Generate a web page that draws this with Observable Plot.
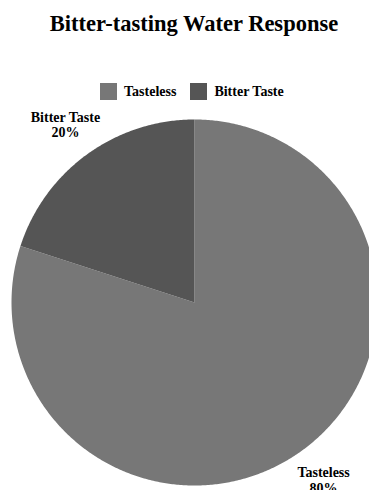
<!DOCTYPE html>
<html>
<head>
<meta charset="utf-8">
<script src="https://cdn.jsdelivr.net/npm/d3@7"></script>
<script src="https://cdn.jsdelivr.net/npm/@observablehq/plot@0.6"></script>
<style>
  html, body { margin: 0; padding: 0; background: #fff; }
  #wrap { position: relative; width: 369px; height: 490px; overflow: hidden; }
  #title { position: absolute; left: 9px; top: 13px; width: 370px; text-align: center; white-space: nowrap;
    font-family: "Liberation Serif", "Times New Roman", serif; font-weight: bold; font-size: 22.5px; line-height: 22px; color: #000; }
  #legend { position: absolute; left: 100px; top: 75px; }
  #chart { position: absolute; left: 0; top: 0; }
</style>
</head>
<body>
<div id="wrap">
  <div id="chart"></div>
  <div id="title">Bitter-tasting Water Response</div>
  <div id="legend"></div>
</div>
<script>
const categories = ["Tasteless", "Bitter Taste"];
const values = [80, 20];
const colors = ["#777777", "#555555"];

const total = d3.sum(values);
const arcs = d3.pie().sort(null)(values);

// Slice outlines in unit-circle data space (angle clockwise from 12 o'clock)
const slicePoints = [];
arcs.forEach((a, i) => {
  slicePoints.push({category: categories[i], x: 0, y: 0});
  const n = Math.max(2, Math.ceil((a.endAngle - a.startAngle) / (Math.PI / 360)));
  for (let k = 0; k <= n; k++) {
    const t = a.startAngle + (a.endAngle - a.startAngle) * k / n;
    slicePoints.push({category: categories[i], x: Math.sin(t), y: Math.cos(t)});
  }
});

const labelRadius = 1.2;
const labels = arcs.map((a, i) => {
  const m = (a.startAngle + a.endAngle) / 2;
  return {
    x: labelRadius * Math.sin(m),
    y: labelRadius * Math.cos(m),
    text: `${categories[i]}\n${Math.round(values[i] / total * 100)}%`
  };
});

const chart = Plot.plot({
  width: 369,
  height: 490,
  margin: 0,
  x: {domain: [-1, 1], range: [11, 377], axis: null},
  y: {domain: [-1, 1], range: [485, 119], axis: null},
  color: {domain: categories, range: colors},
  style: {fontFamily: "'Liberation Serif', 'Times New Roman', serif", background: "transparent"},
  marks: [
    Plot.line(slicePoints, {x: "x", y: "y", z: "category", fill: "category", stroke: null, curve: "linear-closed"}),
    Plot.text(labels, {x: "x", y: "y", text: "text", fill: "black", fontSize: 14, fontWeight: "bold", lineHeight: 1.1})
  ]
});
document.getElementById("chart").appendChild(chart);

const legend = Plot.legend({
  color: {domain: categories, range: colors},
  legend: "swatches",
  swatchSize: 17,
  style: {fontFamily: "'Liberation Serif', 'Times New Roman', serif", fontWeight: "bold", fontSize: "14px", color: "#000"}
});
document.getElementById("legend").appendChild(legend);
</script>
</body>
</html>
